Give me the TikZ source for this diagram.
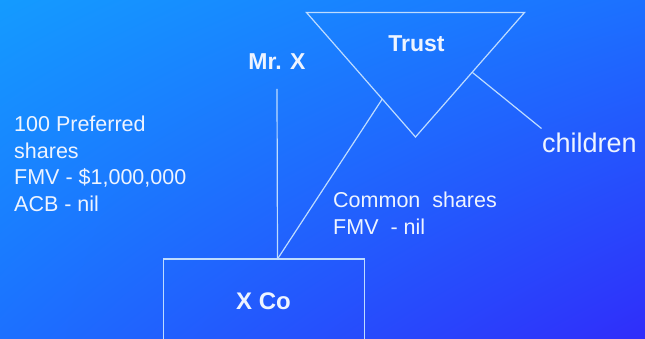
\documentclass[tikz,border=0pt]{standalone}
\usepackage{fontspec}
\setmainfont{Liberation Sans}
\usetikzlibrary{shadings,calc}
\definecolor{bgUL}{RGB}{20,155,255}
\definecolor{bgUR}{RGB}{28,112,255}
\definecolor{bgLL}{RGB}{28,112,255}
\definecolor{bgLR}{RGB}{48,45,250}
\definecolor{linec}{RGB}{190,220,255}
\definecolor{textc}{RGB}{238,244,255}
\tikzset{
  lnk/.style={draw=linec, line width=1.2pt},
  lbl/.style={text=textc, inner sep=0pt, font=\fontsize{21.5}{26.5}\selectfont, align=left},
  blbl/.style={text=textc, inner sep=0pt, font=\fontsize{23}{26}\selectfont\bfseries},
}
\begin{document}
\begin{tikzpicture}[x=1pt,y=-1pt]
\useasboundingbox (0,0) rectangle (645,339);
\shade[upper left=bgUL, upper right=bgUR, lower left=bgLL, lower right=bgLR] (0,0) rectangle (645,339);
% trust triangle
\coordinate (tl) at (306.5,12.5);
\coordinate (tr) at (524.5,12.5);
\coordinate (tb) at (415.5,137);
\draw[lnk, line join=miter] (tl) -- (tr) -- (tb) -- cycle;
\node[blbl] (trust) at (416.5,43.5) {Trust};
\node[blbl] (mrx) at (277,61.5) {Mr. X};
% X Co box
\coordinate (bxtl) at (163.5,259);
\coordinate (bxtr) at (364.5,259);
\draw[lnk] (163.5,345) -- (bxtl) -- (bxtr) -- (364.5,345);
\node[blbl, font=\fontsize{24}{26}\selectfont\bfseries] (xco) at (263.5,301.5) {X Co};
% connectors
\coordinate (mrxtop) at (277,89);
\coordinate (boxjoin) at (277.5,259);
\coordinate (trleft) at ($(tl)!0.695!(tb)$);
\draw[lnk] (mrxtop) -- (boxjoin);
\draw[lnk] (boxjoin) -- (trleft);
\coordinate (trright) at ($(tr)!0.48!(tb)$);
\node[lbl, anchor=west, font=\fontsize{27}{30}\selectfont] (children) at (542,143) {children};
\coordinate (chend) at (541.5,128.5);
\draw[lnk] (trright) -- (chend);
% texts
\node[lbl, anchor=north west] (pref) at (14,116) {100 Preferred\\shares\\FMV - \$1,000,000\\ACB - nil};
\node[lbl, anchor=north west] (common) at (333,192) {Common\ \ shares\\FMV\ \ - nil};
\end{tikzpicture}
\end{document}
